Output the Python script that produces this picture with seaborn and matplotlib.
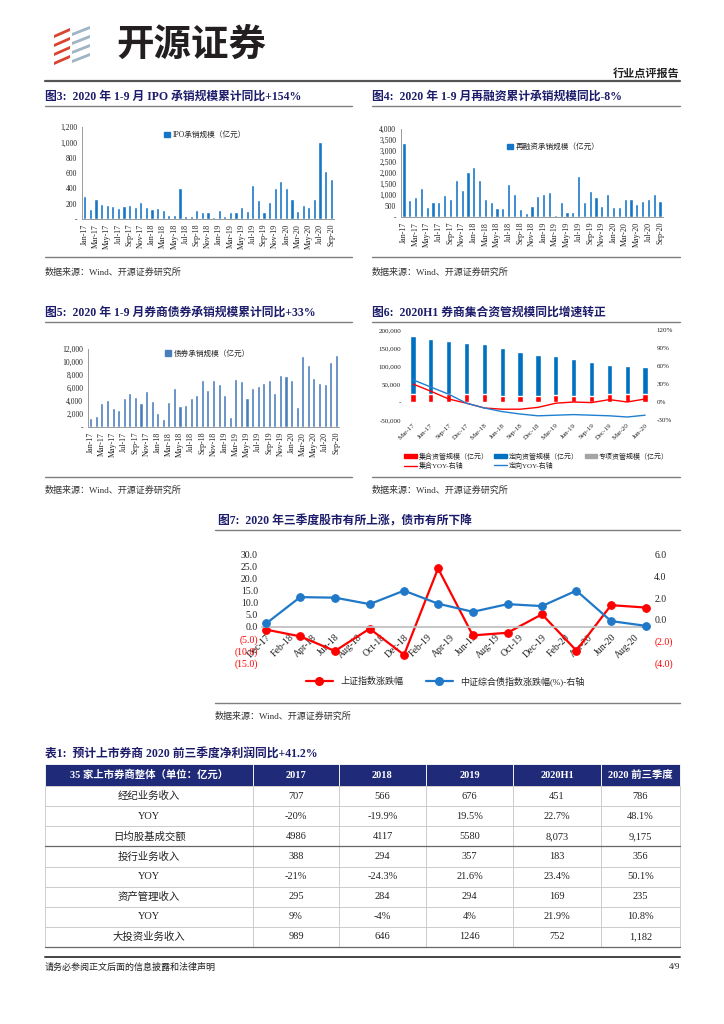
import numpy as np
import pandas as pd
import matplotlib
matplotlib.use('Agg')
import matplotlib.pyplot as plt
import matplotlib.patches as mpatches
from matplotlib.lines import Line2D
import seaborn as sns

# ---- data ----
months = pd.date_range('2017-01-01', '2020-09-01', freq='MS').strftime('%b-%y').tolist()

ipo = [300, 135, 260, 200, 180, 165, 150, 165, 180, 155, 225, 160,
       135, 150, 115, 55, 55, 400, 45, 45, 120, 90, 85, 20,
       120, 35, 90, 85, 160, 100, 445, 245, 90, 225, 400, 500,
       410, 265, 100, 180, 155, 260, 1000, 620, 525]

refi = [3350, 760, 900, 1320, 450, 670, 670, 980, 840, 1680, 1250, 2040,
        2270, 1680, 800, 700, 400, 400, 1520, 1030, 350, 170, 510, 950,
        1030, 1130, 90, 670, 250, 250, 1850, 670, 1180, 910, 510, 1050,
        470, 450, 830, 810, 580, 720, 840, 1060, 720]

bond = [1400, 1700, 3700, 4200, 2950, 2600, 4400, 5200, 4550, 3700, 5550, 3950,
        2100, 1200, 3800, 6050, 3200, 3350, 4400, 4900, 7200, 5650, 7300, 6550,
        4900, 1550, 7400, 7050, 4450, 5950, 6300, 6800, 7300, 5300, 8050, 7900,
        7200, 3100, 10900, 9600, 7600, 6700, 6550, 10000, 11100]

am_quarters = ['Mar-17', 'Jun-17', 'Sep-17', 'Dec-17', 'Mar-18', 'Jun-18', 'Sep-18',
               'Dec-18', 'Mar-19', 'Jun-19', 'Sep-19', 'Dec-19', 'Mar-20', 'Jun-20']
am_collective = [23000, 23000, 21000, 21000, 21000, 18000, 18000,
                 17000, 20000, 17000, 17000, 21000, 21000, 21000]
am_directed = [160000, 153000, 148000, 144000, 140000, 132000, 120000,
               113000, 108000, 102000, 93000, 82000, 77700, 76000]
am_collective_yoy = [0.30, 0.18, 0.05, -0.02, -0.10, -0.12, -0.12,
                     -0.09, -0.02, 0.00, -0.01, 0.04, 0.00, 0.05]
am_directed_yoy = [0.37, 0.25, 0.13, -0.02, -0.10, -0.16, -0.20,
                   -0.23, -0.22, -0.21, -0.22, -0.23, -0.25, -0.22]

mkt_dates = ['2017-12-01', '2018-03-01', '2018-06-01', '2018-09-01', '2018-12-01', '2019-03-01',
             '2019-06-01', '2019-09-01', '2019-12-01', '2020-03-01', '2020-06-01', '2020-09-01']
sh_index_chg = [-1.1, -3.9, -10.0, -0.7, -11.6, 24.4, -3.5, -2.4, 5.3, -9.8, 9.1, 8.1]
bond_index_chg = [-0.34, 2.1, 2.05, 1.45, 2.7, 1.49, 0.74, 1.45, 1.27, 2.7, -0.12, -0.56]

tbl_cols = ['35 家上市券商整体（单位：亿元）', '2017', '2018', '2019', '2020H1', '2020 前三季度']
tbl_rows = ['经纪业务收入', 'YOY', '日均股基成交额', '投行业务收入', 'YOY',
            '资产管理收入', 'YOY', '大投资业务收入']
brokerage = ['707', '566', '676', '451', '786']
brokerage_yoy = ['-20%', '-19.9%', '19.5%', '22.7%', '48.1%']
daily_turnover = ['4986', '4117', '5580', '8,073', '9,175']
ib_income = ['388', '294', '357', '183', '356']
ib_yoy = ['-21%', '-24.3%', '21.6%', '23.4%', '50.1%']
am_income = ['295', '284', '294', '169', '235']
am_yoy = ['9%', '-4%', '4%', '21.9%', '10.8%']
invest_income = ['989', '646', '1246', '752', '1,182']

# ---- style ----
sns.set_theme(style='white')
plt.rcParams['font.family'] = ['Liberation Serif', 'Noto Sans CJK SC', 'DejaVu Sans']
plt.rcParams['axes.unicode_minus'] = False

W, H = 724, 1024
NAVY = '#1c1c6b'
GRID = '#9a9a9a'
fig = plt.figure(figsize=(W / 100, H / 100), dpi=100)
fig.patch.set_facecolor('white')


def fbox(x0, y0, x1, y1):
    return [x0 / W, 1 - y1 / H, (x1 - x0) / W, (y1 - y0) / H]


def ftext(x, y, s, **kw):
    fig.text(x / W, 1 - y / H, s, **kw)


def hline(x0, x1, y, color='#7f7f7f', lw=1.0):
    fig.add_artist(Line2D([x0 / W, x1 / W], [1 - y / H, 1 - y / H],
                          transform=fig.transFigure, color=color, lw=lw))


# ---- page header ----
red_c, grey_c = '#d9432f', '#9fb4c4'
for i in range(4):
    y = 28 + i * 9
    fig.add_artist(mpatches.Polygon(
        [(54 / W, 1 - (y + 7) / H), (70 / W, 1 - y / H), (70 / W, 1 - (y + 3) / H), (54 / W, 1 - (y + 10) / H)],
        closed=True, transform=fig.transFigure, color=red_c, lw=0))
    fig.add_artist(mpatches.Polygon(
        [(72 / W, 1 - (y + 5) / H), (90 / W, 1 - (y - 2) / H), (90 / W, 1 - (y + 1) / H), (72 / W, 1 - (y + 8) / H)],
        closed=True, transform=fig.transFigure, color=grey_c, lw=0))
ftext(116, 44, '开源证券', fontsize=27, fontweight='bold', family=['Noto Sans CJK SC'],
      color='#231f20', va='center')
ftext(680, 73, '行业点评报告', fontsize=8, fontweight='bold', ha='right', va='center', color='#222222')
hline(45, 680, 81, color='#555555', lw=1.6)

# captions and rules
cap_kw = dict(fontsize=8.5, fontweight='bold', color=NAVY, va='center')
ftext(45, 97, '图3:  2020 年 1-9 月 IPO 承销规模累计同比+154%', **cap_kw)
ftext(372, 97, '图4:  2020 年 1-9 月再融资累计承销规模同比-8%', **cap_kw)
ftext(45, 313, '图5:  2020 年 1-9 月券商债券承销规模累计同比+33%', **cap_kw)
ftext(372, 313, '图6:  2020H1 券商集合资管规模同比增速转正', **cap_kw)
ftext(218, 521, '图7:  2020 年三季度股市有所上涨，债市有所下降', **cap_kw)
ftext(45, 755, '表1:  预计上市券商 2020 前三季度净利润同比+41.2%', **cap_kw)
for (x0, x1, y) in [(45, 352, 106), (372, 680, 106), (45, 352, 322), (372, 680, 322), (215, 680, 530),
                    (45, 352, 257), (372, 680, 257), (45, 352, 477), (372, 680, 477), (215, 680, 703)]:
    hline(x0, x1, y, color='#7f7f7f', lw=1.0)

src = '数据来源：Wind、开源证券研究所'
src_kw = dict(fontsize=6.5, color='#333333', va='center')
ftext(45, 272, src, **src_kw)
ftext(372, 272, src, **src_kw)
ftext(45, 490, src, **src_kw)
ftext(372, 490, src, **src_kw)
ftext(215, 716, src, **src_kw)


# ---- monthly bar charts ----
def month_bars(box_px, values, color, ymax, step, label, leg_anchor):
    ax = fig.add_axes(fbox(*box_px))
    df = pd.DataFrame({'month': months, 'value': values})
    sns.barplot(data=df, x='month', y='value', color=color, width=0.55,
                saturation=1, ax=ax)
    ax.set_ylim(0, ymax)
    ticks = np.arange(0, ymax + 1, step)
    ax.set_yticks(ticks)
    ax.set_yticklabels(['-' if t == 0 else f'{t:,.0f}' for t in ticks], fontsize=5.5)
    ax.set_xticks(range(0, len(months), 2))
    ax.set_xticklabels(months[::2], rotation=90, fontsize=5.8)
    ax.set_xlim(-0.5, len(months) - 0.5)
    ax.set_xlabel('')
    ax.set_ylabel('')
    for s in ['top', 'right']:
        ax.spines[s].set_visible(False)
    for s in ['left', 'bottom']:
        ax.spines[s].set_color(GRID)
        ax.spines[s].set_linewidth(0.7)
    ax.tick_params(axis='both', length=2, width=0.6, pad=1.5, colors='#222222')
    ax.tick_params(axis='both', color=GRID)
    ax.legend(handles=[mpatches.Patch(color=color, label=label)], loc='upper left',
              bbox_to_anchor=leg_anchor, frameon=False, fontsize=5.5,
              handlelength=0.7, handleheight=0.7, handletextpad=0.4)
    return ax


month_bars((82, 127, 334, 219), ipo, '#1576c8', 1200, 200, 'IPO承销规模（亿元）', (0.3, 1.03))
month_bars((401, 129, 663, 217), refi, '#1576c8', 4000, 500, '再融资承销规模（亿元）', (0.38, 0.92))
month_bars((88, 349, 339, 427), bond, '#4a7ebb', 12000, 2000, '债券承销规模（亿元）', (0.28, 1.08))

# ---- asset management chart ----
ax6 = fig.add_axes(fbox(404, 330, 654, 420))
df6 = pd.DataFrame({'quarter': am_quarters,
                    'total': np.array(am_collective) + np.array(am_directed),
                    'collective': am_collective})
sns.barplot(data=df6, x='quarter', y='total', color='#0070c0', width=0.3, saturation=1, ax=ax6)
sns.barplot(data=df6, x='quarter', y='collective', color='#ff0000', width=0.3, saturation=1, ax=ax6)
ax6.set_ylim(-50000, 200000)
yt6 = np.arange(-50000, 200001, 50000)
ax6.set_yticks(yt6)
ax6.set_yticklabels(['-' if t == 0 else f'{t:,.0f}' for t in yt6], fontsize=5)
ax6.set_xticks(range(len(am_quarters)))
ax6.set_xticklabels(am_quarters, rotation=45, ha='right', rotation_mode='anchor', fontsize=5)
ax6.set_xlabel('')
ax6.set_ylabel('')
ax6r = ax6.twinx()
sns.lineplot(x=np.arange(len(am_quarters)), y=am_collective_yoy, color='#ff0000', lw=1.0, ax=ax6r)
sns.lineplot(x=np.arange(len(am_quarters)), y=am_directed_yoy, color='#1f7fd0', lw=1.0, ax=ax6r)
ax6r.set_ylim(-0.30, 1.20)
yt6r = np.arange(-0.30, 1.21, 0.30)
ax6r.set_yticks(yt6r)
ax6r.set_yticklabels([f'{t * 100:.0f}%' for t in yt6r], fontsize=5)
ax6r.set_xlim(-0.5, len(am_quarters) - 0.5)
for a in (ax6, ax6r):
    for s in a.spines.values():
        s.set_visible(False)
    a.tick_params(length=0, pad=2, colors='#222222')
h6 = [mpatches.Patch(color='#ff0000', label='集合资管规模（亿元）'),
      Line2D([], [], color='#ff0000', lw=1.0, label='集合YOY-右轴'),
      mpatches.Patch(color='#0070c0', label='定向资管规模（亿元）'),
      Line2D([], [], color='#1f7fd0', lw=1.0, label='定向YOY-右轴'),
      mpatches.Patch(color='#a5a5a5', label='专项资管规模（亿元）')]
fig.legend(handles=h6, loc='upper left', bbox_to_anchor=(398 / W, 1 - 446 / H), ncol=3,
           frameon=False, fontsize=5, handlelength=1.8, handleheight=0.6,
           handletextpad=0.3, columnspacing=0.8, labelspacing=0.3)

# ---- market chart ----
ax7 = fig.add_axes(fbox(262, 555, 650, 663))
dates7 = pd.to_datetime(mkt_dates)
sns.lineplot(x=dates7, y=sh_index_chg, color='#ff0000', lw=1.6, marker='o', markersize=5.5,
             markeredgecolor='#ff0000', ax=ax7)
ax7r = ax7.twinx()
sns.lineplot(x=dates7, y=bond_index_chg, color='#1f78c8', lw=1.6, marker='o', markersize=5.5,
             markeredgecolor='#1f78c8', ax=ax7r)

# move the x axis to zero first (this resets the ticks)
ax7.spines['bottom'].set_position(('data', 0))
for s in ['top', 'right', 'left']:
    ax7.spines[s].set_visible(False)
ax7.spines['bottom'].set_color('#bfbfbf')

ax7.set_ylim(-15, 30)
yt7 = np.arange(-15, 31, 5)
ax7.set_yticks(yt7)
ax7.set_yticklabels([f'{t:.1f}' if t >= 0 else f'({-t:.1f})' for t in yt7], fontsize=7)
for lab, t in zip(ax7.get_yticklabels(), yt7):
    lab.set_color('#ff0000' if t < 0 else '#222222')
ax7r.set_ylim(-4, 6)
yt7r = np.arange(-4, 7, 2)
ax7r.set_yticks(yt7r)
ax7r.set_yticklabels([f'{t:.1f}' if t >= 0 else f'({-t:.1f})' for t in yt7r], fontsize=7)
for lab, t in zip(ax7r.get_yticklabels(), yt7r):
    lab.set_color('#ff0000' if t < 0 else '#222222')

xt7 = pd.date_range('2017-12-01', '2020-08-01', freq='2MS')
ax7.set_xlim(dates7[0] - pd.Timedelta(days=11), dates7[-1] + pd.Timedelta(days=11))
ax7.set_xticks(xt7)
ax7.set_xticklabels(xt7.strftime('%b-%y'), rotation=45, ha='right', rotation_mode='anchor', fontsize=7)
ax7.tick_params(axis='y', length=0, pad=3)
ax7.tick_params(axis='x', length=3, color='#bfbfbf', pad=1, colors='#222222')
ax7.set_xlabel('')
ax7.set_ylabel('')
for s in ax7r.spines.values():
    s.set_visible(False)
ax7r.tick_params(axis='y', length=0, pad=3)
ax7r.set_ylabel('')
h7 = [Line2D([], [], color='#ff0000', lw=1.6, marker='o', markersize=5.5, label='上证指数涨跌幅'),
      Line2D([], [], color='#1f78c8', lw=1.6, marker='o', markersize=5.5, label='中证综合债指数涨跌幅(%)-右轴')]
fig.legend(handles=h7, loc='center', bbox_to_anchor=(445 / W, 1 - 681 / H), ncol=2, frameon=False,
           fontsize=6.5, handlelength=3, columnspacing=2.5)

# ---- table ----
axt = fig.add_axes(fbox(45, 764, 680, 947))
axt.axis('off')
cell_rows = [brokerage, brokerage_yoy, daily_turnover, ib_income, ib_yoy, am_income, am_yoy, invest_income]
cell_text = [[lab] + vals for lab, vals in zip(tbl_rows, cell_rows)]
col_w = [208, 86, 87, 87, 88, 79]
tbl = axt.table(cellText=cell_text, colLabels=tbl_cols, colWidths=[w / sum(col_w) for w in col_w],
                cellLoc='center', bbox=[0, 0, 1, 1])
tbl.auto_set_font_size(False)
for (r, c), cell in tbl.get_celld().items():
    cell.set_linewidth(0.6)
    if r == 0:
        cell.set_facecolor('#1f2a78')
        cell.set_edgecolor('#ffffff')
        cell.set_height(cell.get_height() * 1.1)
        cell.get_text().set_color('white')
        cell.get_text().set_fontweight('bold')
        cell.get_text().set_fontsize(7.5)
    else:
        cell.set_facecolor('white')
        cell.set_edgecolor('#c8c8c8')
        cell.get_text().set_fontsize(7.5)
        cell.get_text().set_color('#222222')
# darker rules below the turnover row and at the bottom
row_h = 1 / (8 + 1.1)
axt.plot([0, 1], [row_h * 5, row_h * 5], transform=axt.transAxes, color='#666666', lw=0.9, clip_on=False)
axt.plot([0, 1], [0, 0], transform=axt.transAxes, color='#666666', lw=0.9, clip_on=False)

# ---- footer ----
hline(45, 680, 957, color='#444444', lw=1.4)
ftext(45, 967, '请务必参阅正文后面的信息披露和法律声明', fontsize=6.5, color='#222222', va='center')
ftext(680, 967, '4/9', fontsize=6.5, color='#222222', va='center', ha='right')

fig.savefig('out.png', dpi=100, facecolor='white')
